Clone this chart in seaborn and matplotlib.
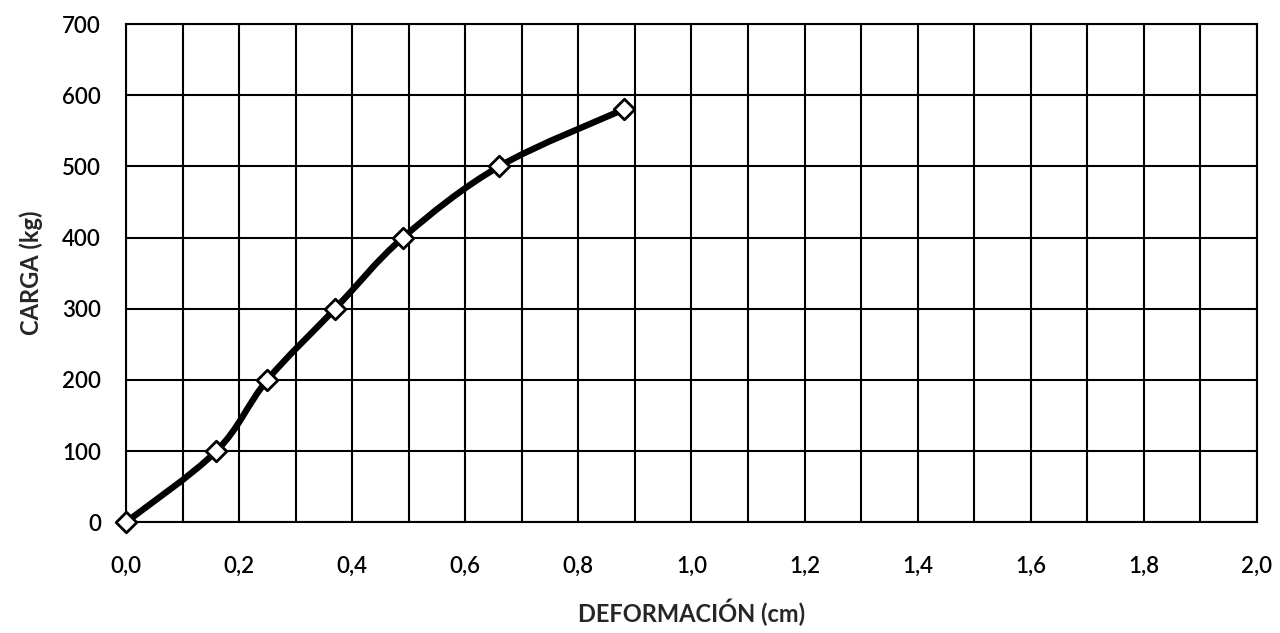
import matplotlib
matplotlib.use("Agg")
import matplotlib.pyplot as plt
from matplotlib.path import Path
from matplotlib.patches import PathPatch
import numpy as np
import pandas as pd
import seaborn as sns

# Load test readings
deformacion = [0.0, 0.16, 0.25, 0.37, 0.49, 0.66, 0.88]
carga = [0, 100, 200, 300, 400, 500, 580]

x_ticks = [0.0, 0.2, 0.4, 0.6, 0.8, 1.0, 1.2, 1.4, 1.6, 1.8, 2.0]
x_tick_labels = ["0,0", "0,2", "0,4", "0,6", "0,8", "1,0", "1,2", "1,4", "1,6", "1,8", "2,0"]
y_ticks = [0, 100, 200, 300, 400, 500, 600, 700]

df = pd.DataFrame({"deformacion": deformacion, "carga": carga})

sns.set_theme(style="white")
plt.rcParams["font.family"] = ["Lato", "DejaVu Sans"]

fig = plt.figure(figsize=(12.8, 6.33), dpi=100)
ax = fig.add_axes([0.0984, 0.175, 0.8836, 0.787])

ax.set_xlim(0, 2.0)
ax.set_ylim(0, 700)

# Grid: minor every 0.1 on x, every 100 on y
ax.set_xticks(x_ticks)
ax.set_xticklabels(x_tick_labels)
ax.set_xticks(np.arange(0, 2.01, 0.1), minor=True)
ax.set_yticks(y_ticks)
ax.grid(True, which="both", color="black", linewidth=1.5)
ax.set_axisbelow(True)

for side in ["left", "right", "top", "bottom"]:
    ax.spines[side].set_color("black")
    ax.spines[side].set_linewidth(1.5)
ax.spines["bottom"].set_linestyle((0, (1, 1)))

ax.tick_params(axis="both", which="both", length=0, labelsize=16, colors="black")
for lbl in ax.get_xticklabels() + ax.get_yticklabels():
    lbl.set_fontweight("semibold")
ax.tick_params(axis="x", pad=24)
ax.tick_params(axis="y", pad=18)

# Smoothed connecting curve (cardinal spline as cubic Bezier segments)
pts = df[["deformacion", "carga"]].to_numpy(dtype=float)
t = 1.0 / 6.0
verts = [tuple(pts[0])]
codes = [Path.MOVETO]
n = len(pts)
for i in range(n - 1):
    p0 = pts[i - 1] if i > 0 else pts[i]
    p1 = pts[i]
    p2 = pts[i + 1]
    p3 = pts[i + 2] if i + 2 < n else pts[i + 1]
    c1 = p1 + (p2 - p0) * t
    c2 = p2 - (p3 - p1) * t
    verts += [tuple(c1), tuple(c2), tuple(p2)]
    codes += [Path.CURVE4] * 3
curve = PathPatch(Path(verts, codes), facecolor="none", edgecolor="black",
                  linewidth=4.6, transform=ax.transData, zorder=3,
                  capstyle="round", joinstyle="round")
ax.add_patch(curve)

sns.scatterplot(data=df, x="deformacion", y="carga", ax=ax, marker="D",
                s=110, color="white", edgecolor="black", linewidth=2.0,
                zorder=4, clip_on=False)

ax.set_xlabel("DEFORMACIÓN (cm)", fontsize=17, fontweight="bold", labelpad=16)
ax.set_ylabel("CARGA (kg)", fontsize=17, fontweight="bold", labelpad=14)

fig.savefig("out.png", dpi=100, facecolor="white")
